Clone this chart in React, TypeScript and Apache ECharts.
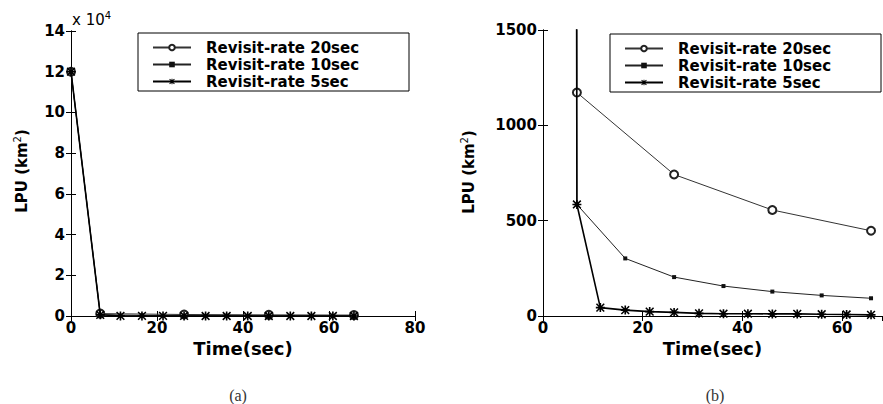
import React, { useEffect, useRef } from "react";
import * as echarts from "echarts";

// Series names (legend)
const seriesNames = ["Revisit-rate 20sec", "Revisit-rate 10sec", "Revisit-rate 5sec"];

// Time (sec) and LPU (km^2) per revisit rate
const time20 = [0, 6.8, 26.3, 46.0, 65.8];
const lpu20 = [120000, 1172, 742, 556, 447];

const time10 = [0, 6.8, 16.5, 26.3, 36.2, 46.0, 55.9, 65.8];
const lpu10 = [120000, 585, 302, 204, 157, 128, 108, 93];

const time5 = [0, 6.8, 11.5, 16.5, 21.4, 26.3, 31.3, 36.2, 41.1, 46.0, 51.0, 55.9, 60.9, 65.8];
const lpu5 = [120000, 585, 44, 31, 23, 19, 14, 12, 12, 11, 11, 9, 8, 6];

// Axis settings of the two panels
const panelA = { xMax: 80, xStep: 20, yMax: 140000, yStep: 20000 };
const panelB = { xMax: 68, xStep: 20, yMax: 1500, yStep: 500 };

const ASTERISK =
  "path://M4.1,0H5.9V10H4.1Z M0,4.1H10V5.9H0Z M1.3,0.1L9.9,8.7L8.7,9.9L0.1,1.3Z M8.7,0.1L9.9,1.3L1.3,9.9L0.1,8.7Z";

const FONT = "DejaVu Sans";

function pairs(t: number[], v: number[]) {
  return t.map((x, i) => [x, v[i]]);
}

export default function App() {
  const ref = useRef<HTMLDivElement>(null);

  useEffect(() => {
    document.body.style.margin = "0";
    const chart = echarts.init(ref.current!, null, { renderer: "svg" });

    const grids = [
      { left: 71, top: 31, width: 344, height: 285 },
      { left: 543, top: 30, width: 339, height: 286 },
    ];

    const tickLabel = {
      fontFamily: FONT,
      fontWeight: "bold" as const,
      fontSize: 15,
      color: "#000",
    };

    const axisLine = { show: true, lineStyle: { color: "#000", width: 1 } };
    const axisTick = { show: true, inside: true, length: 5, lineStyle: { color: "#000" } };

    const xAxes: any[] = [];
    const yAxes: any[] = [];
    [panelA, panelB].forEach((p, g) => {
      const xLabelFmt = (v: number) => (v % p.xStep === 0 ? String(v) : "");
      xAxes.push({
        type: "value",
        gridIndex: g,
        position: "bottom",
        min: 0,
        max: p.xMax,
        interval: p.xStep,
        axisLine,
        axisTick,
        splitLine: { show: false },
        axisLabel: { ...tickLabel, margin: 4, formatter: xLabelFmt, showMaxLabel: p.xMax % p.xStep === 0 },
        name: "Time(sec)",
        nameLocation: "middle",
        nameGap: 20,
        nameTextStyle: { fontFamily: FONT, fontWeight: "bold", fontSize: 18, color: "#000" },
      });
      xAxes.push({
        type: "value",
        gridIndex: g,
        position: "top",
        min: 0,
        max: p.xMax,
        interval: p.xStep,
        axisLine,
        axisTick,
        splitLine: { show: false },
        axisLabel: { show: false },
      });
      yAxes.push({
        type: "value",
        gridIndex: g,
        position: "left",
        min: 0,
        max: p.yMax,
        interval: p.yStep,
        axisLine,
        axisTick,
        splitLine: { show: false },
        axisLabel: {
          ...tickLabel,
          margin: 6,
          formatter: (v: number) => (g === 0 ? String(v / 10000) : String(v)),
        },
      });
      yAxes.push({
        type: "value",
        gridIndex: g,
        position: "right",
        min: 0,
        max: p.yMax,
        interval: p.yStep,
        axisLine,
        axisTick,
        splitLine: { show: false },
        axisLabel: { show: false },
      });
    });

    const series: any[] = [];
    [0, 1].forEach((g) => {
      series.push({
        name: seriesNames[0],
        type: "line",
        xAxisIndex: g * 2,
        yAxisIndex: g * 2,
        data: pairs(time20, lpu20),
        symbol: "emptyCircle",
        symbolSize: 8,
        lineStyle: { color: "#333", width: 1 },
        itemStyle: { color: "#222", borderWidth: 1.2 },
        z: 2,
      });
      series.push({
        name: seriesNames[1],
        type: "line",
        xAxisIndex: g * 2,
        yAxisIndex: g * 2,
        data: pairs(time10, lpu10),
        symbol: "rect",
        symbolSize: 4,
        lineStyle: { color: "#222", width: 1 },
        itemStyle: { color: "#111" },
        z: 3,
      });
      series.push({
        name: seriesNames[2],
        type: "line",
        xAxisIndex: g * 2,
        yAxisIndex: g * 2,
        data: pairs(time5, lpu5),
        symbol: ASTERISK,
        symbolSize: 9,
        lineStyle: { color: "#000", width: 1.6 },
        itemStyle: { color: "#000" },
        z: 4,
      });
    });

    const legendBase = {
      orient: "vertical",
      data: seriesNames,
      itemWidth: 38,
      itemHeight: 7,
      itemGap: 2,
      padding: [7, 28, 2, 14],
      borderColor: "#000",
      borderWidth: 1,
      borderRadius: 0,
      backgroundColor: "#fff",
      selectedMode: false,
      textStyle: {
        fontFamily: FONT,
        fontWeight: "bold",
        fontSize: 15,
        color: "#000",
        width: 175,
        lineHeight: 15,
        padding: [0, 0, 0, 10],
      },
    };

    const yNameStyle = {
      fontFamily: FONT,
      fontWeight: "bold",
      fontSize: 15,
      fill: "#000",
      align: "center",
      verticalAlign: "middle",
      rich: {
        sup: { fontFamily: FONT, fontSize: 10, padding: [0, 0, 9, 0], fill: "#000" },
      },
    };

    chart.setOption({
      animation: false,
      backgroundColor: "#fff",
      grid: grids.map((g) => ({ ...g, containLabel: false })),
      xAxis: xAxes,
      yAxis: yAxes,
      legend: [
        { ...legendBase, left: 138, top: 33 },
        { ...legendBase, left: 610, top: 34 },
      ],
      series,
      graphic: [
        {
          type: "text",
          x: 22,
          y: 171,
          rotation: Math.PI / 2,
          style: { ...yNameStyle, text: "LPU (km{sup|2})" },
        },
        {
          type: "text",
          x: 469,
          y: 172,
          rotation: Math.PI / 2,
          style: { ...yNameStyle, text: "LPU (km{sup|2})" },
        },
        {
          type: "text",
          x: 72,
          y: 20,
          style: {
            text: "x 10{sup|4}",
            fontFamily: FONT,
            fontSize: 15,
            fill: "#000",
            verticalAlign: "middle",
            rich: { sup: { fontFamily: FONT, fontSize: 10, padding: [0, 0, 9, 0], fill: "#000" } },
          },
        },
        {
          type: "text",
          x: 238,
          y: 395,
          style: {
            text: "(a)",
            fontFamily: "Liberation Serif",
            fontSize: 16,
            fill: "#333",
            align: "center",
            verticalAlign: "middle",
          },
        },
        {
          type: "text",
          x: 715,
          y: 395,
          style: {
            text: "(b)",
            fontFamily: "Liberation Serif",
            fontSize: 16,
            fill: "#333",
            align: "center",
            verticalAlign: "middle",
          },
        },
      ],
    });

    return () => chart.dispose();
  }, []);

  return <div ref={ref} style={{ width: 883, height: 404 }} />;
}
